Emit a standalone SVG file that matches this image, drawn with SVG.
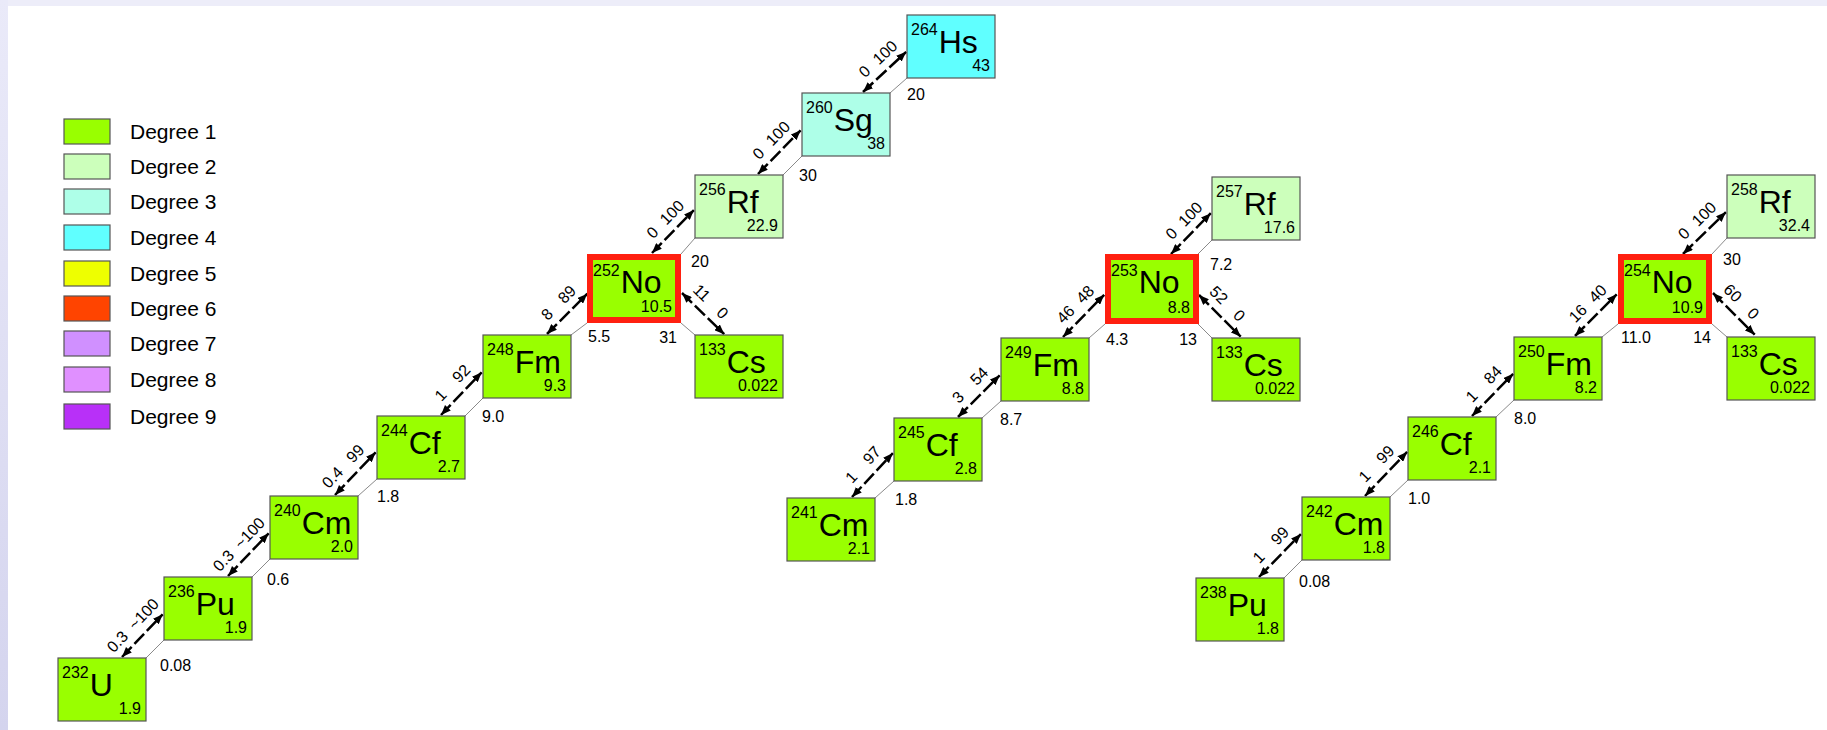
<svg xmlns="http://www.w3.org/2000/svg" width="1827" height="730" viewBox="0 0 1827 730">
<style>
text{font-family:"Liberation Sans",Arial,sans-serif;fill:#000}
.box{stroke:#555;stroke-width:1.2}
.red{stroke:#ff2010;stroke-width:6}
.d1{fill:#99ff00}.d2{fill:#ccffbb}.d3{fill:#aeffe8}.d4{fill:#60ffff}.d5{fill:#eeff00}
.d6{fill:#ff4400}.d7{fill:#d090ff}.d8{fill:#e090ff}.d9{fill:#b830f8}
.sw{stroke:#555;stroke-width:1.2}
.lg{font-size:21px}
.iso{font-size:16px}
.sym{font-size:32px}
.v{font-size:16px;text-anchor:end}
.n{font-size:16px}
.ne{font-size:16px;text-anchor:end}
.thin{stroke:#8a8a8a;stroke-width:1}
.arr{stroke:#000;stroke-width:2.5;stroke-dasharray:14 4;marker-start:url(#ah);marker-end:url(#ah)}
.al{font-size:16px;text-anchor:middle;dominant-baseline:central}
</style>
<defs>
<linearGradient id="lb" x1="0" y1="0" x2="0" y2="1"><stop offset="0" stop-color="#eaeaf9"/><stop offset="1" stop-color="#d4d4ee"/></linearGradient>
<marker id="ah" viewBox="0 0 10 8" refX="10" refY="4" markerWidth="10" markerHeight="8" markerUnits="userSpaceOnUse" orient="auto-start-reverse"><path d="M0,0 L10,4 L0,8 Z" fill="#000"/></marker>
</defs>
<rect x="0" y="0" width="1827" height="730" fill="#fff"/>
<rect x="0" y="0" width="1827" height="6" fill="#ededf9"/>
<rect x="0" y="0" width="8" height="730" fill="url(#lb)"/>

<g id="legend">
<rect class="sw d1" x="64" y="119" width="46" height="25"/><text class="lg" x="130" y="139">Degree 1</text>
<rect class="sw d2" x="64" y="154" width="46" height="25"/><text class="lg" x="130" y="174">Degree 2</text>
<rect class="sw d3" x="64" y="189" width="46" height="25"/><text class="lg" x="130" y="209">Degree 3</text>
<rect class="sw d4" x="64" y="225" width="46" height="25"/><text class="lg" x="130" y="245">Degree 4</text>
<rect class="sw d5" x="64" y="261" width="46" height="25"/><text class="lg" x="130" y="281">Degree 5</text>
<rect class="sw d6" x="64" y="296" width="46" height="25"/><text class="lg" x="130" y="316">Degree 6</text>
<rect class="sw d7" x="64" y="331" width="46" height="25"/><text class="lg" x="130" y="351">Degree 7</text>
<rect class="sw d8" x="64" y="367" width="46" height="25"/><text class="lg" x="130" y="387">Degree 8</text>
<rect class="sw d9" x="64" y="404" width="46" height="25"/><text class="lg" x="130" y="424">Degree 9</text>
</g>

<g id="connectors">
<g id="thin-lines">
<line class="thin" x1="146" y1="658" x2="164" y2="640"/>
<line class="thin" x1="252" y1="577" x2="270" y2="559"/>
<line class="thin" x1="358" y1="496" x2="377" y2="479"/>
<line class="thin" x1="465" y1="416" x2="483" y2="398"/>
<line class="thin" x1="571" y1="335" x2="587" y2="323"/>
<line class="thin" x1="681" y1="254" x2="695" y2="238"/>
<line class="thin" x1="783" y1="175" x2="802" y2="156"/>
<line class="thin" x1="890" y1="93" x2="907" y2="78"/>
<line class="thin" x1="681" y1="323" x2="695" y2="335"/>
<line class="thin" x1="875" y1="498" x2="894" y2="481"/>
<line class="thin" x1="982" y1="418" x2="1001" y2="401"/>
<line class="thin" x1="1089" y1="338" x2="1105" y2="324"/>
<line class="thin" x1="1198" y1="254" x2="1212" y2="240"/>
<line class="thin" x1="1198" y1="324" x2="1212" y2="338"/>
<line class="thin" x1="1284" y1="578" x2="1302" y2="560"/>
<line class="thin" x1="1390" y1="497" x2="1408" y2="480"/>
<line class="thin" x1="1496" y1="417" x2="1514" y2="400"/>
<line class="thin" x1="1602" y1="337" x2="1618" y2="324"/>
<line class="thin" x1="1712" y1="254" x2="1727" y2="238"/>
<line class="thin" x1="1712" y1="324" x2="1727" y2="337"/>
</g>
<g id="thin-labels">
<text class="n" x="160" y="671">0.08</text>
<text class="n" x="267" y="585">0.6</text>
<text class="n" x="377" y="502">1.8</text>
<text class="n" x="482" y="422">9.0</text>
<text class="n" x="588" y="342">5.5</text>
<text class="n" x="691" y="267">20</text>
<text class="n" x="799" y="181">30</text>
<text class="n" x="907" y="100">20</text>
<text class="ne" x="677" y="343">31</text>
<text class="n" x="895" y="505">1.8</text>
<text class="n" x="1000" y="425">8.7</text>
<text class="n" x="1106" y="345">4.3</text>
<text class="n" x="1210" y="270">7.2</text>
<text class="ne" x="1197" y="345">13</text>
<text class="n" x="1299" y="587">0.08</text>
<text class="n" x="1408" y="504">1.0</text>
<text class="n" x="1514" y="424">8.0</text>
<text class="n" x="1621" y="343">11.0</text>
<text class="n" x="1723" y="265">30</text>
<text class="ne" x="1711" y="343">14</text>
</g>
<g id="arrows">
<g transform="translate(122 657) rotate(-46.4)"><line class="arr" x1="0" y1="0" x2="59" y2="0"/><text class="al" x="8" y="-14">0.3</text><text class="al" x="46" y="-14">~100</text></g>
<g transform="translate(228 576) rotate(-46.4)"><line class="arr" x1="0" y1="0" x2="59" y2="0"/><text class="al" x="8" y="-14">0.3</text><text class="al" x="46" y="-14">~100</text></g>
<g transform="translate(335 495) rotate(-46.4)"><line class="arr" x1="0" y1="0" x2="59" y2="0"/><text class="al" x="11" y="-14">0.4</text><text class="al" x="44" y="-14">99</text></g>
<g transform="translate(441 415) rotate(-46.4)"><line class="arr" x1="0" y1="0" x2="59" y2="0"/><text class="al" x="14" y="-14">1</text><text class="al" x="44" y="-14">92</text></g>
<g transform="translate(547 334) rotate(-45)"><line class="arr" x1="0" y1="0" x2="57" y2="0"/><text class="al" x="14" y="-14">8</text><text class="al" x="42" y="-14">89</text></g>
<g transform="translate(652 253) rotate(-45.7)"><line class="arr" x1="0" y1="0" x2="60" y2="0"/><text class="al" x="15" y="-14">0</text><text class="al" x="43" y="-14">100</text></g>
<g transform="translate(758 174) rotate(-45.7)"><line class="arr" x1="0" y1="0" x2="61" y2="0"/><text class="al" x="15" y="-14">0</text><text class="al" x="43" y="-14">100</text></g>
<g transform="translate(863 92) rotate(-42.9)"><line class="arr" x1="0" y1="0" x2="59" y2="0"/><text class="al" x="15" y="-14">0</text><text class="al" x="43" y="-14">100</text></g>
<g transform="translate(682 293) rotate(44.3)"><line class="arr" x1="0" y1="0" x2="59" y2="0"/><text class="al" x="14" y="-14">11</text><text class="al" x="43" y="-14">0</text></g>
<g transform="translate(852 497) rotate(-47)"><line class="arr" x1="0" y1="0" x2="60" y2="0"/><text class="al" x="14" y="-14">1</text><text class="al" x="44" y="-14">97</text></g>
<g transform="translate(958 417) rotate(-45)"><line class="arr" x1="0" y1="0" x2="59" y2="0"/><text class="al" x="14" y="-14">3</text><text class="al" x="44" y="-14">54</text></g>
<g transform="translate(1063 337) rotate(-45.7)"><line class="arr" x1="0" y1="0" x2="59" y2="0"/><text class="al" x="18" y="-14">46</text><text class="al" x="46" y="-14">48</text></g>
<g transform="translate(1171 254) rotate(-45.7)"><line class="arr" x1="0" y1="0" x2="57" y2="0"/><text class="al" x="15" y="-14">0</text><text class="al" x="42" y="-14">100</text></g>
<g transform="translate(1199 295) rotate(45)"><line class="arr" x1="0" y1="0" x2="59" y2="0"/><text class="al" x="14" y="-14">52</text><text class="al" x="43" y="-14">0</text></g>
<g transform="translate(1259 577) rotate(-45.7)"><line class="arr" x1="0" y1="0" x2="60" y2="0"/><text class="al" x="14" y="-14">1</text><text class="al" x="44" y="-14">99</text></g>
<g transform="translate(1365 496) rotate(-46.3)"><line class="arr" x1="0" y1="0" x2="61" y2="0"/><text class="al" x="14" y="-14">1</text><text class="al" x="44" y="-14">99</text></g>
<g transform="translate(1472 416) rotate(-45.7)"><line class="arr" x1="0" y1="0" x2="59" y2="0"/><text class="al" x="14" y="-14">1</text><text class="al" x="44" y="-14">84</text></g>
<g transform="translate(1575 336) rotate(-45)"><line class="arr" x1="0" y1="0" x2="59" y2="0"/><text class="al" x="18" y="-14">16</text><text class="al" x="46" y="-14">40</text></g>
<g transform="translate(1683 254) rotate(-44.3)"><line class="arr" x1="0" y1="0" x2="60" y2="0"/><text class="al" x="15" y="-14">0</text><text class="al" x="43" y="-14">100</text></g>
<g transform="translate(1713 293) rotate(45)"><line class="arr" x1="0" y1="0" x2="59" y2="0"/><text class="al" x="14" y="-14">60</text><text class="al" x="43" y="-14">0</text></g>
</g>
</g>

<g id="n-U232"><rect class="box d1" x="58" y="658" width="88" height="63"/><text x="62" y="678"><tspan class="iso">232</tspan><tspan class="sym" dx="1" dy="18">U</tspan></text><text class="v" x="141" y="714">1.9</text></g>
<g id="n-Pu236"><rect class="box d1" x="164" y="577" width="88" height="63"/><text x="168" y="597"><tspan class="iso">236</tspan><tspan class="sym" dx="1" dy="18">Pu</tspan></text><text class="v" x="247" y="633">1.9</text></g>
<g id="n-Cm240"><rect class="box d1" x="270" y="496" width="88" height="63"/><text x="274" y="516"><tspan class="iso">240</tspan><tspan class="sym" dx="1" dy="18">Cm</tspan></text><text class="v" x="353" y="552">2.0</text></g>
<g id="n-Cf244"><rect class="box d1" x="377" y="416" width="88" height="63"/><text x="381" y="436"><tspan class="iso">244</tspan><tspan class="sym" dx="1" dy="18">Cf</tspan></text><text class="v" x="460" y="472">2.7</text></g>
<g id="n-Fm248"><rect class="box d1" x="483" y="335" width="88" height="63"/><text x="487" y="355"><tspan class="iso">248</tspan><tspan class="sym" dx="1" dy="18">Fm</tspan></text><text class="v" x="566" y="391">9.3</text></g>
<g id="n-No252"><rect class="red d1" x="590" y="257" width="88" height="63"/><text x="593" y="276"><tspan class="iso">252</tspan><tspan class="sym" dx="1" dy="17">No</tspan></text><text class="v" x="672" y="312">10.5</text></g>
<g id="n-Rf256"><rect class="box d2" x="695" y="175" width="88" height="63"/><text x="699" y="195"><tspan class="iso">256</tspan><tspan class="sym" dx="1" dy="18">Rf</tspan></text><text class="v" x="778" y="231">22.9</text></g>
<g id="n-Sg260"><rect class="box d3" x="802" y="93" width="88" height="63"/><text x="806" y="113"><tspan class="iso">260</tspan><tspan class="sym" dx="1" dy="18">Sg</tspan></text><text class="v" x="885" y="149">38</text></g>
<g id="n-Hs264"><rect class="box d4" x="907" y="15" width="88" height="63"/><text x="911" y="35"><tspan class="iso">264</tspan><tspan class="sym" dx="1" dy="18">Hs</tspan></text><text class="v" x="990" y="71">43</text></g>
<g id="n-Cs133a"><rect class="box d1" x="695" y="335" width="88" height="63"/><text x="699" y="355"><tspan class="iso">133</tspan><tspan class="sym" dx="1" dy="18">Cs</tspan></text><text class="v" x="778" y="391">0.022</text></g>

<g id="n-Cm241"><rect class="box d1" x="787" y="498" width="88" height="63"/><text x="791" y="518"><tspan class="iso">241</tspan><tspan class="sym" dx="1" dy="18">Cm</tspan></text><text class="v" x="870" y="554">2.1</text></g>
<g id="n-Cf245"><rect class="box d1" x="894" y="418" width="88" height="63"/><text x="898" y="438"><tspan class="iso">245</tspan><tspan class="sym" dx="1" dy="18">Cf</tspan></text><text class="v" x="977" y="474">2.8</text></g>
<g id="n-Fm249"><rect class="box d1" x="1001" y="338" width="88" height="63"/><text x="1005" y="358"><tspan class="iso">249</tspan><tspan class="sym" dx="1" dy="18">Fm</tspan></text><text class="v" x="1084" y="394">8.8</text></g>
<g id="n-No253"><rect class="red d1" x="1108" y="257" width="88" height="64"/><text x="1111" y="276"><tspan class="iso">253</tspan><tspan class="sym" dx="1" dy="17">No</tspan></text><text class="v" x="1190" y="313">8.8</text></g>
<g id="n-Rf257"><rect class="box d2" x="1212" y="177" width="88" height="63"/><text x="1216" y="197"><tspan class="iso">257</tspan><tspan class="sym" dx="1" dy="18">Rf</tspan></text><text class="v" x="1295" y="233">17.6</text></g>
<g id="n-Cs133b"><rect class="box d1" x="1212" y="338" width="88" height="63"/><text x="1216" y="358"><tspan class="iso">133</tspan><tspan class="sym" dx="1" dy="18">Cs</tspan></text><text class="v" x="1295" y="394">0.022</text></g>

<g id="n-Pu238"><rect class="box d1" x="1196" y="578" width="88" height="63"/><text x="1200" y="598"><tspan class="iso">238</tspan><tspan class="sym" dx="1" dy="18">Pu</tspan></text><text class="v" x="1279" y="634">1.8</text></g>
<g id="n-Cm242"><rect class="box d1" x="1302" y="497" width="88" height="63"/><text x="1306" y="517"><tspan class="iso">242</tspan><tspan class="sym" dx="1" dy="18">Cm</tspan></text><text class="v" x="1385" y="553">1.8</text></g>
<g id="n-Cf246"><rect class="box d1" x="1408" y="417" width="88" height="63"/><text x="1412" y="437"><tspan class="iso">246</tspan><tspan class="sym" dx="1" dy="18">Cf</tspan></text><text class="v" x="1491" y="473">2.1</text></g>
<g id="n-Fm250"><rect class="box d1" x="1514" y="337" width="88" height="63"/><text x="1518" y="357"><tspan class="iso">250</tspan><tspan class="sym" dx="1" dy="18">Fm</tspan></text><text class="v" x="1597" y="393">8.2</text></g>
<g id="n-No254"><rect class="red d1" x="1621" y="257" width="88" height="64"/><text x="1624" y="276"><tspan class="iso">254</tspan><tspan class="sym" dx="1" dy="17">No</tspan></text><text class="v" x="1703" y="313">10.9</text></g>
<g id="n-Rf258"><rect class="box d2" x="1727" y="175" width="88" height="63"/><text x="1731" y="195"><tspan class="iso">258</tspan><tspan class="sym" dx="1" dy="18">Rf</tspan></text><text class="v" x="1810" y="231">32.4</text></g>
<g id="n-Cs133c"><rect class="box d1" x="1727" y="337" width="88" height="63"/><text x="1731" y="357"><tspan class="iso">133</tspan><tspan class="sym" dx="1" dy="18">Cs</tspan></text><text class="v" x="1810" y="393">0.022</text></g>
</svg>
